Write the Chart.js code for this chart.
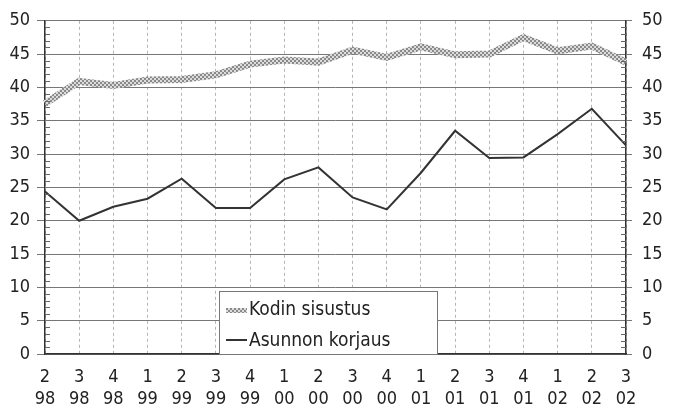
<!DOCTYPE html>
<html>
<head>
<meta charset="utf-8">
<script src="https://cdn.jsdelivr.net/npm/chart.js@4"></script>
<style>
  html, body { margin: 0; padding: 0; background: #fff; }
  #wrap { width: 676px; height: 408px; }
</style>
</head>
<body>
<div id="wrap"><canvas id="chart" width="676" height="408"></canvas></div>
<script>
const quarters = ['2', '3', '4', '1', '2', '3', '4', '1', '2', '3', '4', '1', '2', '3', '4', '1', '2', '3'];
const years = ['98', '98', '98', '99', '99', '99', '99', '00', '00', '00', '00', '01', '01', '01', '01', '02', '02', '02'];
const kodinSisustus = [37.6, 40.9, 40.3, 41.1, 41.2, 41.9, 43.5, 44.1, 43.8, 45.6, 44.5, 46.1, 44.9, 45.0, 47.5, 45.5, 46.2, 43.8];
const asunnonKorjaus = [24.4, 20.0, 22.1, 23.3, 26.3, 21.9, 21.9, 26.2, 28.0, 23.5, 21.7, 27.2, 33.5, 29.4, 29.5, 33.0, 36.8, 31.3];
const seriesNames = ['Kodin sisustus', 'Asunnon korjaus'];
const yTicks = [0, 5, 10, 15, 20, 25, 30, 35, 40, 45, 50];

const FONT = "'Liberation Sans Narrow', 'DejaVu Sans Condensed', sans-serif";

// hatched grey texture for the thick line
function makePattern() {
  const c = document.createElement('canvas');
  c.width = 4; c.height = 4;
  const g = c.getContext('2d');
  g.fillStyle = '#8a8a8a';
  g.fillRect(0, 0, 4, 4);
  g.fillStyle = '#dcdcdc';
  g.fillRect(0, 0, 2, 2);
  g.fillRect(2, 2, 2, 2);
  return g.createPattern(c, 'repeat');
}
const hatch = makePattern();

const minorTicks = {
  id: 'minorTicks',
  afterDatasetsDraw(chart) {
    const ctx = chart.ctx;
    const y = chart.scales.y;
    const a = chart.chartArea;
    ctx.save();
    ctx.strokeStyle = '#666';
    ctx.lineWidth = 1;
    for (let v = 0; v <= 50; v++) {
      if (v % 5 === 0) continue;
      const py = Math.round(y.getPixelForValue(v)) + 0.5;
      ctx.beginPath();
      ctx.moveTo(a.left, py); ctx.lineTo(a.left + 5, py);
      ctx.moveTo(a.right, py); ctx.lineTo(a.right - 5, py);
      ctx.stroke();
    }
    ctx.restore();
  }
};

const boxLegend = {
  id: 'boxLegend',
  afterDraw(chart) {
    const ctx = chart.ctx;
    const x0 = 219, y0 = 291, w = 218, h = 63;
    ctx.save();
    ctx.fillStyle = '#fff';
    ctx.fillRect(x0, y0, w, h);
    ctx.strokeStyle = '#777';
    ctx.lineWidth = 1;
    ctx.strokeRect(x0 + 0.5, y0 + 0.5, w, h);
    ctx.font = '19px ' + FONT;
    ctx.textBaseline = 'middle';
    ctx.fillStyle = hatch;
    ctx.fillRect(x0 + 7, y0 + 17, 21, 5);
    ctx.fillStyle = '#222';
    ctx.fillText(chart.data.datasets[0].label, x0 + 30, y0 + 19);
    ctx.strokeStyle = '#333';
    ctx.lineWidth = 2;
    ctx.beginPath();
    ctx.moveTo(x0 + 7, y0 + 49); ctx.lineTo(x0 + 28, y0 + 49);
    ctx.stroke();
    ctx.fillText(chart.data.datasets[1].label, x0 + 30, y0 + 50);
    ctx.restore();
  }
};

const labels = quarters.map((q, i) => [q, years[i]]);

new Chart(document.getElementById('chart'), {
  type: 'line',
  data: {
    labels: labels,
    datasets: [
      {
        label: seriesNames[0],
        data: kodinSisustus,
        borderColor: hatch,
        borderWidth: 7,
        pointRadius: 0,
        tension: 0,
        yAxisID: 'y'
      },
      {
        label: seriesNames[1],
        data: asunnonKorjaus,
        borderColor: '#333',
        borderWidth: 2,
        pointRadius: 0,
        tension: 0,
        yAxisID: 'y'
      }
    ]
  },
  options: {
    responsive: false,
    animation: false,
    layout: { padding: { top: 16, left: 0, right: 0, bottom: 0 } },
    plugins: {
      legend: { display: false },
      tooltip: { enabled: false }
    },
    scales: {
      x: {
        offset: false,
        grid: { color: '#b5b5b5', drawTicks: false, tickLength: 0 },
        border: { display: true, color: '#333', width: 1.5, dash: [3, 3] },
        ticks: {
          autoSkip: false, maxRotation: 0, padding: 12,
          color: '#222', font: { family: FONT, size: 18, lineHeight: 1.25 }
        },
        afterFit(s) { s.height = 54; }
      },
      y: {
        position: 'left',
        min: 0, max: 50,
        afterBuildTicks(s) { s.ticks = yTicks.map(v => ({ value: v })); },
        grid: { color: '#777', tickLength: 8 },
        border: { color: '#333', width: 1.5 },
        ticks: { padding: 7, color: '#222', font: { family: FONT, size: 18 } },
        afterFit(s) { s.width = 45; }
      },
      y2: {
        position: 'right',
        min: 0, max: 50,
        afterBuildTicks(s) { s.ticks = yTicks.map(v => ({ value: v })); },
        grid: { drawOnChartArea: false, color: '#777', tickLength: 6 },
        border: { color: '#333', width: 1.5 },
        ticks: { padding: 10, color: '#222', font: { family: FONT, size: 18 } },
        afterFit(s) { s.width = 50; }
      }
    }
  },
  plugins: [minorTicks, boxLegend]
});
</script>
</body>
</html>
